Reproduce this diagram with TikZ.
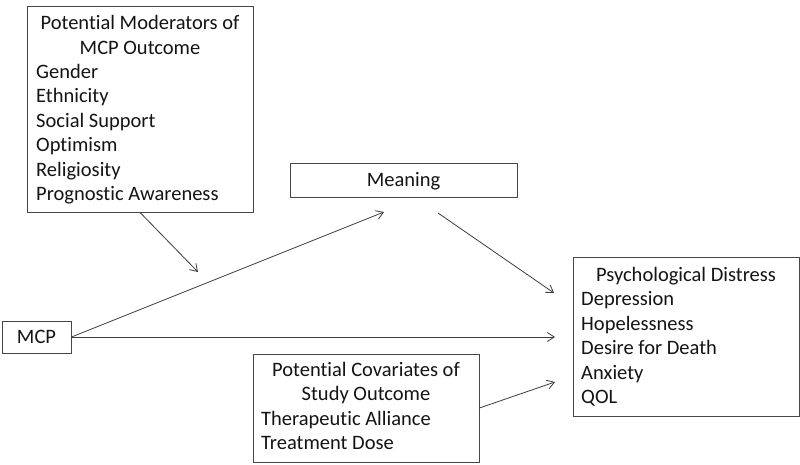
\documentclass[tikz,border=0pt]{standalone}
\usepackage{fontspec}
\setmainfont[RawFeature={-liga}]{Carlito}
\usetikzlibrary{arrows.meta}
\definecolor{boxline}{RGB}{70,70,70}
\definecolor{arrline}{RGB}{60,60,60}
\definecolor{txt}{RGB}{20,20,20}
\begin{document}
\begin{tikzpicture}[x=1pt,y=-1pt,
  box/.style={draw=boxline, line width=0.9pt, inner sep=0pt, fill=white},
  lbl/.style={text=txt, font=\fontsize{20.5}{24.5}\selectfont, inner sep=0pt},
  arr/.style={draw=arrline, line width=0.8pt, -{Straight Barb[length=7pt,width=9pt]}}]
\useasboundingbox (0,0) rectangle (800,464);
\fill[white] (0,0) rectangle (800,464);
% boxes
\node[box, minimum width=226pt, minimum height=206pt] (mod) at (140,109) {};
\node[box, minimum width=227pt, minimum height=34pt] (mean) at (403.5,180) {};
\node[box, minimum width=226pt, minimum height=159pt] (psy) at (686,336.5) {};
\node[box, minimum width=69pt, minimum height=32pt] (mcp) at (36.5,337) {};
\node[box, minimum width=226pt, minimum height=108pt] (cov) at (366,408) {};
% moderators text
\node[lbl, anchor=base] (modt1) at (140,29) {Potential Moderators of};
\node[lbl, anchor=base] (modt2) at (140,54) {MCP Outcome};
\node[lbl, anchor=base west] (modl1) at (36,78) {Gender};
\node[lbl, anchor=base west] (modl2) at (36,102.5) {Ethnicity};
\node[lbl, anchor=base west] (modl3) at (36,127) {Social Support};
\node[lbl, anchor=base west] (modl4) at (36,151.5) {Optimism};
\node[lbl, anchor=base west] (modl5) at (36,176) {Religiosity};
\node[lbl, anchor=base west] (modl6) at (36,200.5) {Prognostic Awareness};
% meaning
\node[lbl, anchor=base] (meant) at (403.5,186.5) {Meaning};
% mcp
\node[lbl, anchor=base] (mcpt) at (36.5,343) {MCP};
% psychological distress
\node[lbl, anchor=base] (psyt) at (686,281) {Psychological Distress};
\node[lbl, anchor=base west] (psyl1) at (581,305.5) {Depression};
\node[lbl, anchor=base west] (psyl2) at (581,330) {Hopelessness};
\node[lbl, anchor=base west] (psyl3) at (581,354.5) {Desire for Death};
\node[lbl, anchor=base west] (psyl4) at (581,379) {Anxiety};
\node[lbl, anchor=base west] (psyl5) at (581,403.5) {QOL};
% covariates
\node[lbl, anchor=base] (covt1) at (366,376) {Potential Covariates of};
\node[lbl, anchor=base] (covt2) at (366,400.5) {Study Outcome};
\node[lbl, anchor=base west] (covl1) at (261,425) {Therapeutic Alliance};
\node[lbl, anchor=base west] (covl2) at (261,449.5) {Treatment Dose};
% free ends
\coordinate (modend) at (198,272);
\coordinate (meanin) at (384,212);
\coordinate (meanout) at (438,213);
\coordinate (psyin1) at (554,293);
\coordinate (psyin2) at (555,337);
\coordinate (psyin3) at (555,382);
% connectors
\draw[arr] (mod.south) -- (modend);
\draw[arr] (mcp.east) -- (meanin);
\draw[arr] (mcp.east) -- (psyin2);
\draw[arr] (meanout) -- (psyin1);
\draw[arr] (cov.east) -- (psyin3);
\end{tikzpicture}
\end{document}
